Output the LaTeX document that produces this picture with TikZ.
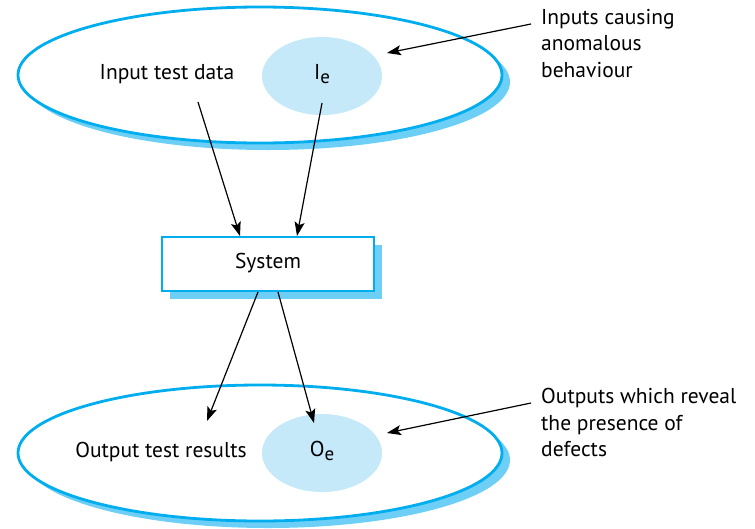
\documentclass[tikz,border=0pt]{standalone}
\usepackage{fontspec}
\setmainfont{PT Sans}
\usetikzlibrary{shapes.geometric,arrows.meta}
\definecolor{rim}{HTML}{00AEEF}
\definecolor{shade}{HTML}{6DCFF6}
\definecolor{subset}{HTML}{C6E9FA}
\tikzset{
  setshadow/.style={ellipse,fill=shade,minimum width=484pt,minimum height=136pt,inner sep=0pt},
  setrim/.style={ellipse,draw=rim,line width=2.8pt,fill=white,minimum width=484pt,minimum height=136pt,inner sep=0pt},
  subsetblob/.style={ellipse,fill=subset,minimum width=120pt,minimum height=78pt,inner sep=0pt},
  label/.style={font=\fontsize{21.5}{26}\selectfont,inner sep=0pt},
  note/.style={font=\fontsize{21.5}{26.5}\selectfont,align=left,anchor=north west,inner sep=0pt},
  sysbox/.style={draw=rim,line width=2.8pt,fill=white,minimum width=212pt,minimum height=54pt,inner sep=0pt},
  boxshadow/.style={fill=shade,minimum width=212pt,minimum height=54pt,inner sep=0pt},
  flow/.style={line width=1.2pt,-{Stealth[length=14pt,width=10pt,inset=3pt]}},
}
\newcommand{\subsc}[2]{#1\raisebox{-4pt}{\fontsize{19}{19}\selectfont #2}}
\begin{document}
\begin{tikzpicture}[x=1pt,y=-1pt]
\useasboundingbox (0,0) rectangle (755,528);

% input domain
\node[setshadow] at (268,82) {};
\node[setrim] (indom) at (260,75) {};
\node[subsetblob] (ie) at (322,76) {};
\node[label] at (322,74) {\subsc{I}{e}};
\node[label] (intext) at (167,74) {Input test data};

% system
\node[boxshadow] at (276,272) {};
\node[sysbox] (sys) at (268,264) {};
\node[label] at (268,263) {System};

% output domain
\node[setshadow] at (268,460) {};
\node[setrim] (outdom) at (260,453) {};
\node[subsetblob] (oe) at (322,453) {};
\node[label] at (322,451) {\subsc{O}{e}};
\node[label] (outtext) at (161,452) {Output test results};

% annotations
\node[note] (inote) at (541,9) {Inputs causing\\anomalous\\behaviour};
\node[note] (onote) at (541,388) {Outputs which reveal\\the presence of\\defects};

% connector ends
\coordinate (inA) at (198,102);
\coordinate (inB) at (322,103);
\coordinate (sysA) at (240,236);
\coordinate (sysB) at (297,236);
\coordinate (outA) at (258,292);
\coordinate (outB) at (278,292);
\coordinate (resA) at (207,421);
\coordinate (resB) at (314,423);
\coordinate (inoteEnd) at (531,24);
\coordinate (ieTip) at (387,53);
\coordinate (onoteEnd) at (531,403);
\coordinate (oeTip) at (387,433);

\draw[flow] (inA) -- (sysA);
\draw[flow] (inB) -- (sysB);
\draw[flow] (outA) -- (resA);
\draw[flow] (outB) -- (resB);
\draw[flow] (inoteEnd) -- (ieTip);
\draw[flow] (onoteEnd) -- (oeTip);
\end{tikzpicture}
\end{document}
